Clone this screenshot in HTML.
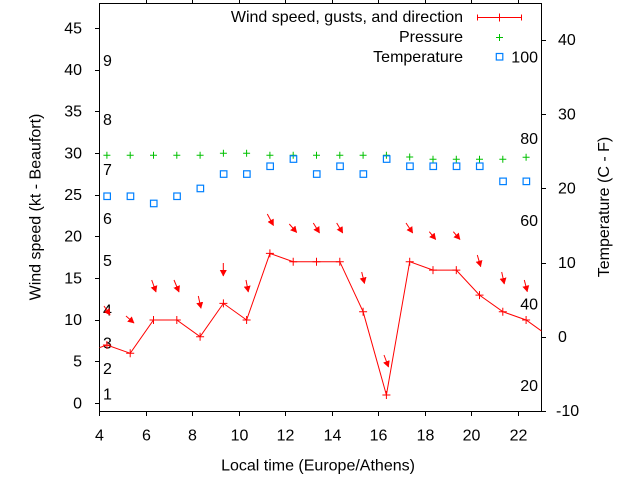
<!DOCTYPE html>
<html><head><meta charset="utf-8"><style>
html,body{margin:0;padding:0;background:#fff;}
svg{display:block;font-family:"Liberation Sans",Arial,sans-serif;font-size:16px;}
</style></head><body>
<svg width="640" height="480" viewBox="0 0 640 480" xmlns="http://www.w3.org/2000/svg">
<defs>
<marker id="ah" markerUnits="userSpaceOnUse" markerWidth="8" markerHeight="8" refX="6" refY="3.5" orient="auto">
<path d="M0,0 L6.5,3.5 L0,7 z" fill="#ff0000"/>
</marker>
<clipPath id="pc"><rect x="99.5" y="3.5" width="442" height="408"/></clipPath>
</defs>
<rect width="640" height="480" fill="#fff"/>

<rect x="99.5" y="3.5" width="442" height="408" fill="none" stroke="#000" stroke-width="1"/>

<g stroke="#000" stroke-width="1">
<line x1="95" y1="403.5" x2="99.5" y2="403.5"/>
<line x1="95" y1="361.5" x2="99.5" y2="361.5"/>
<line x1="95" y1="320.5" x2="99.5" y2="320.5"/>
<line x1="95" y1="278.5" x2="99.5" y2="278.5"/>
<line x1="95" y1="236.5" x2="99.5" y2="236.5"/>
<line x1="95" y1="195.5" x2="99.5" y2="195.5"/>
<line x1="95" y1="153.5" x2="99.5" y2="153.5"/>
<line x1="95" y1="111.5" x2="99.5" y2="111.5"/>
<line x1="95" y1="70.5" x2="99.5" y2="70.5"/>
<line x1="95" y1="28.5" x2="99.5" y2="28.5"/>
<line x1="541.5" y1="411.5" x2="546" y2="411.5"/>
<line x1="541.5" y1="337.5" x2="546" y2="337.5"/>
<line x1="541.5" y1="263.5" x2="546" y2="263.5"/>
<line x1="541.5" y1="188.5" x2="546" y2="188.5"/>
<line x1="541.5" y1="114.5" x2="546" y2="114.5"/>
<line x1="541.5" y1="40.5" x2="546" y2="40.5"/>
<line x1="99.5" y1="411.5" x2="99.5" y2="416"/>
<line x1="146.5" y1="411.5" x2="146.5" y2="416"/><line x1="146.5" y1="3.5" x2="146.5" y2="0"/>
<line x1="192.5" y1="411.5" x2="192.5" y2="416"/><line x1="192.5" y1="3.5" x2="192.5" y2="0"/>
<line x1="239.5" y1="411.5" x2="239.5" y2="416"/><line x1="239.5" y1="3.5" x2="239.5" y2="0"/>
<line x1="285.5" y1="411.5" x2="285.5" y2="416"/><line x1="285.5" y1="3.5" x2="285.5" y2="0"/>
<line x1="332.5" y1="411.5" x2="332.5" y2="416"/><line x1="332.5" y1="3.5" x2="332.5" y2="0"/>
<line x1="378.5" y1="411.5" x2="378.5" y2="416"/><line x1="378.5" y1="3.5" x2="378.5" y2="0"/>
<line x1="425.5" y1="411.5" x2="425.5" y2="416"/><line x1="425.5" y1="3.5" x2="425.5" y2="0"/>
<line x1="471.5" y1="411.5" x2="471.5" y2="416"/><line x1="471.5" y1="3.5" x2="471.5" y2="0"/>
<line x1="518.5" y1="411.5" x2="518.5" y2="416"/><line x1="518.5" y1="3.5" x2="518.5" y2="0"/>
</g>

<g fill="#000" text-anchor="end">
<text x="82" y="408.5">0</text>
<text x="82" y="366.5">5</text>
<text x="82" y="325">10</text>
<text x="82" y="283.5">15</text>
<text x="82" y="241.5">20</text>
<text x="82" y="200">25</text>
<text x="82" y="158.5">30</text>
<text x="82" y="116.5">35</text>
<text x="82" y="75">40</text>
<text x="82" y="33.5">45</text>
</g>
<g fill="#000" text-anchor="start">
<text x="556" y="416">-10</text>
<text x="558" y="342">0</text>
<text x="558" y="268">10</text>
<text x="558" y="193.5">20</text>
<text x="558" y="119.5">30</text>
<text x="558" y="45">40</text>
</g>
<g fill="#000" text-anchor="middle">
<text x="99.5" y="440.5">4</text>
<text x="146.5" y="440.5">6</text>
<text x="192.5" y="440.5">8</text>
<text x="239.5" y="440.5">10</text>
<text x="285.5" y="440.5">12</text>
<text x="332.5" y="440.5">14</text>
<text x="378.5" y="440.5">16</text>
<text x="425.5" y="440.5">18</text>
<text x="471.5" y="440.5">20</text>
<text x="518.5" y="440.5">22</text>
</g>

<text x="318" y="470.5" text-anchor="middle" fill="#000">Local time (Europe/Athens)</text>
<text transform="translate(40.5,207) rotate(-90)" text-anchor="middle" fill="#000">Wind speed (kt - Beaufort)</text>
<text transform="translate(609,207) rotate(-90)" text-anchor="middle" fill="#000">Temperature (C - F)</text>

<g fill="#000" text-anchor="start">
<text x="103" y="399.5">1</text>
<text x="103" y="374">2</text>
<text x="103" y="348.5">3</text>
<text x="103" y="315.5">4</text>
<text x="103" y="266">5</text>
<text x="103" y="224">6</text>
<text x="103" y="175">7</text>
<text x="103" y="125">8</text>
<text x="103" y="66">9</text>
</g>
<g fill="#000" text-anchor="end">
<text x="538" y="391">20</text>
<text x="538" y="309.3">40</text>
<text x="538" y="226">60</text>
<text x="538" y="144">80</text>
<text x="538" y="62.5">100</text>
</g>

<g clip-path="url(#pc)">
<polyline fill="none" stroke="#ff0000" stroke-width="1" points="83.6,353.3 106.9,345 130.2,353.3 153.5,320 176.8,320 200.1,336.7 223.4,303.4 246.6,320 269.9,253.4 293.2,261.7 316.5,261.7 339.8,261.7 363.1,311.7 386.4,395 409.7,261.7 433,270.1 456.3,270.1 479.5,295.1 502.8,311.7 526.1,320 549.4,336.7"/>
</g>
<g stroke="#ff0000" stroke-width="1" fill="none">
<path d="M102.9,345h8M106.9,341v8"/>
<path d="M126.2,353.3h8M130.2,349.3v8"/>
<path d="M149.5,320h8M153.5,316v8"/>
<path d="M172.8,320h8M176.8,316v8"/>
<path d="M196.1,336.7h8M200.1,332.7v8"/>
<path d="M219.4,303.4h8M223.4,299.4v8"/>
<path d="M242.6,320h8M246.6,316v8"/>
<path d="M265.9,253.4h8M269.9,249.4v8"/>
<path d="M289.2,261.7h8M293.2,257.7v8"/>
<path d="M312.5,261.7h8M316.5,257.7v8"/>
<path d="M335.8,261.7h8M339.8,257.7v8"/>
<path d="M359.1,311.7h8M363.1,307.7v8"/>
<path d="M382.4,395h8M386.4,391v8"/>
<path d="M405.7,261.7h8M409.7,257.7v8"/>
<path d="M429,270.1h8M433,266.1v8"/>
<path d="M452.3,270.1h8M456.3,266.1v8"/>
<path d="M475.5,295.1h8M479.5,291.1v8"/>
<path d="M498.8,311.7h8M502.8,307.7v8"/>
<path d="M522.1,320h8M526.1,316v8"/>
</g>

<g stroke="#ff0000" stroke-width="1" marker-end="url(#ah)">
<line x1="104" y1="306" x2="110" y2="315"/>
<line x1="126" y1="316" x2="134" y2="323"/>
<line x1="151.7" y1="280" x2="156" y2="292"/>
<line x1="174" y1="280" x2="179" y2="292"/>
<line x1="198.3" y1="296" x2="201" y2="308.3"/>
<line x1="223.3" y1="263" x2="223.3" y2="276"/>
<line x1="246" y1="280" x2="248.3" y2="292"/>
<line x1="267.3" y1="214" x2="273.5" y2="225.5"/>
<line x1="289.3" y1="224" x2="296.7" y2="232.5"/>
<line x1="313.3" y1="223" x2="319.5" y2="233"/>
<line x1="336.7" y1="223" x2="342.7" y2="233"/>
<line x1="361.7" y1="272" x2="364.5" y2="283.5"/>
<line x1="384" y1="355" x2="388.5" y2="367"/>
<line x1="406" y1="223" x2="412.7" y2="233"/>
<line x1="429.3" y1="231.7" x2="435.7" y2="239.5"/>
<line x1="453.3" y1="231.7" x2="460" y2="239.5"/>
<line x1="477.3" y1="255" x2="480.7" y2="266.7"/>
<line x1="501.7" y1="272" x2="504.3" y2="284"/>
<line x1="524.3" y1="280" x2="527.3" y2="291.7"/>
</g>

<g stroke="#00c000" stroke-width="1" fill="none">
<path d="M103.4,155.3h7M106.9,151.8v7"/>
<path d="M126.7,155.3h7M130.2,151.8v7"/>
<path d="M150,155.3h7M153.5,151.8v7"/>
<path d="M173.3,155.3h7M176.8,151.8v7"/>
<path d="M196.6,155.3h7M200.1,151.8v7"/>
<path d="M219.9,153.3h7M223.4,149.8v7"/>
<path d="M243.1,153.3h7M246.6,149.8v7"/>
<path d="M266.4,155.3h7M269.9,151.8v7"/>
<path d="M289.7,155.3h7M293.2,151.8v7"/>
<path d="M313,155.3h7M316.5,151.8v7"/>
<path d="M336.3,155.3h7M339.8,151.8v7"/>
<path d="M359.6,155.3h7M363.1,151.8v7"/>
<path d="M382.9,155.3h7M386.4,151.8v7"/>
<path d="M406.2,157h7M409.7,153.5v7"/>
<path d="M429.5,159.3h7M433,155.8v7"/>
<path d="M452.8,159.3h7M456.3,155.8v7"/>
<path d="M476,159.3h7M479.5,155.8v7"/>
<path d="M499.3,159.3h7M502.8,155.8v7"/>
<path d="M522.6,157.3h7M526.1,153.8v7"/>
</g>

<g stroke="#0080ff" stroke-width="1.2" fill="none">
<rect x="103.9" y="193" width="6.5" height="6.5"/>
<rect x="127.2" y="193" width="6.5" height="6.5"/>
<rect x="150.5" y="200.2" width="6.5" height="6.5"/>
<rect x="173.8" y="193" width="6.5" height="6.5"/>
<rect x="197.1" y="185.2" width="6.5" height="6.5"/>
<rect x="220.4" y="170.8" width="6.5" height="6.5"/>
<rect x="243.6" y="170.8" width="6.5" height="6.5"/>
<rect x="266.9" y="163" width="6.5" height="6.5"/>
<rect x="290.2" y="155.8" width="6.5" height="6.5"/>
<rect x="313.5" y="170.8" width="6.5" height="6.5"/>
<rect x="336.8" y="163" width="6.5" height="6.5"/>
<rect x="360.1" y="170.8" width="6.5" height="6.5"/>
<rect x="383.4" y="155.8" width="6.5" height="6.5"/>
<rect x="406.7" y="163" width="6.5" height="6.5"/>
<rect x="430" y="163" width="6.5" height="6.5"/>
<rect x="453.3" y="163" width="6.5" height="6.5"/>
<rect x="476.5" y="163" width="6.5" height="6.5"/>
<rect x="499.8" y="178.1" width="6.5" height="6.5"/>
<rect x="523.1" y="178.1" width="6.5" height="6.5"/>
</g>

<g fill="#000" text-anchor="end">
<text x="463" y="22">Wind speed, gusts, and direction</text>
<text x="463" y="42">Pressure</text>
<text x="463" y="62">Temperature</text>
</g>
<g stroke="#ff0000" stroke-width="1" fill="none">
<path d="M477.5,17.5H521.5M477.5,14.5v6M521.5,14.5v6M495.5,17.5h8M499.5,13.5v8"/>
</g>
<g stroke="#00c000" stroke-width="1" fill="none">
<path d="M496,37.5h7M499.5,34v7"/>
</g>
<rect x="496.3" y="53.5" width="6.5" height="6.5" stroke="#0080ff" stroke-width="1.2" fill="none"/>
</svg>
</body></html>
